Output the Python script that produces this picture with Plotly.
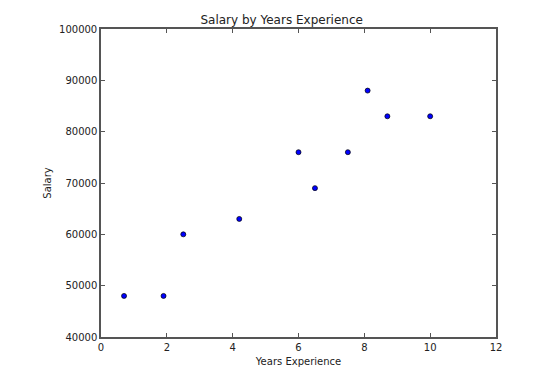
import plotly.graph_objects as go

years = [0.7, 1.9, 2.5, 4.2, 6.0, 6.5, 7.5, 8.1, 8.7, 10.0]
salary = [48000, 48000, 60000, 63000, 76000, 69000, 76000, 88000, 83000, 83000]
x_ticks = [0, 2, 4, 6, 8, 10, 12]
y_ticks = [40000, 50000, 60000, 70000, 80000, 90000, 100000]

fig = go.Figure(go.Scatter(
    x=years, y=salary, mode="markers",
    marker=dict(color="#0000ff", size=5, line=dict(color="black", width=0.7)),
))

axis_common = dict(
    showgrid=False, zeroline=False, showline=True, linecolor="#555555", linewidth=1.5,
    mirror="allticks", ticks="inside", ticklen=4, tickcolor="#555555",
    tickfont=dict(family="DejaVu Sans", size=10, color="#222222"),
    automargin=False,
)

fig.update_layout(
    width=554, height=370,
    margin=dict(l=93, r=66, t=21, b=41),
    paper_bgcolor="white", plot_bgcolor="white",
    title=dict(text="Salary by Years Experience", xref="container", yref="container",
               x=0.494, xanchor="center", y=0.968, yanchor="middle",
               font=dict(family="DejaVu Sans", size=12, color="#222222")),
    xaxis=dict(range=[0, 12], tickvals=x_ticks, ticktext=[str(v) for v in x_ticks],
               title=dict(text="Years Experience", standoff=6,
                          font=dict(family="DejaVu Sans", size=10, color="#222222")),
               **axis_common),
    yaxis=dict(range=[40000, 100000], tickvals=y_ticks, ticktext=[str(v) for v in y_ticks],
               title=dict(text="Salary", standoff=6,
                          font=dict(family="DejaVu Sans", size=10, color="#222222")),
               **axis_common),
    showlegend=False,
)

fig.write_html("out.html")
